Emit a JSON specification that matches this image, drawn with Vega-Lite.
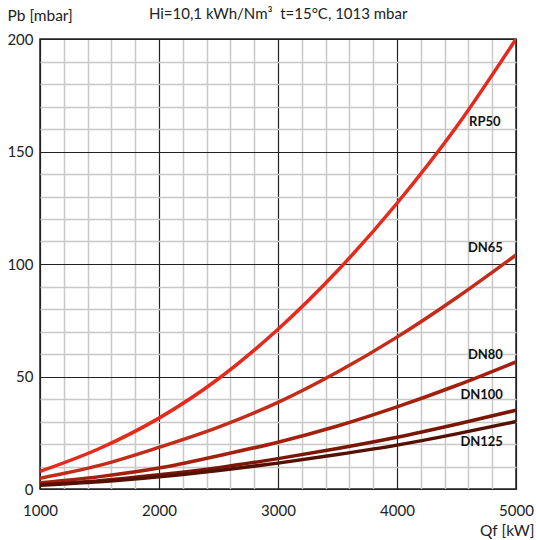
{
  "$schema": "https://vega.github.io/schema/vega-lite/v6.json",
  "width": 476,
  "height": 450,
  "autosize": {"type": "none"},
  "padding": {"left": 40, "top": 39, "right": 20, "bottom": 51},
  "background": "white",
  "config": {
    "font": "Lato",
    "view": {"stroke": "#222", "strokeWidth": 1.5},
    "axis": {"labelFont": "Lato", "titleFont": "Lato", "labelColor": "#222", "titleColor": "#222", "labelFontSize": 15, "titleFontSize": 15.5, "titleFontWeight": "normal", "ticks": false, "domain": false}
  },
  "title": {
    "text": "Hi=10,1 kWh/Nm³\u00a0 t=15°C, 1013 mbar",
    "anchor": "start",
    "dx": 142,
    "dy": 14,
    "offset": 0,
    "fontSize": 15,
    "fontWeight": "normal",
    "color": "#222",
    "font": "Lato"
  },
  "datasets": {
    "curves": [
      {"serie": "RP50", "q": 1000, "p": 7.8}, {"serie": "RP50", "q": 1500, "p": 18}, {"serie": "RP50", "q": 2000, "p": 31.5}, {"serie": "RP50", "q": 2500, "p": 49}, {"serie": "RP50", "q": 3000, "p": 71}, {"serie": "RP50", "q": 3500, "p": 97}, {"serie": "RP50", "q": 4000, "p": 127}, {"serie": "RP50", "q": 4500, "p": 161}, {"serie": "RP50", "q": 5000, "p": 200},
      {"serie": "DN65", "q": 1000, "p": 4.8}, {"serie": "DN65", "q": 1500, "p": 10.5}, {"serie": "DN65", "q": 2000, "p": 18.5}, {"serie": "DN65", "q": 2500, "p": 27.5}, {"serie": "DN65", "q": 3000, "p": 38.5}, {"serie": "DN65", "q": 3500, "p": 52}, {"serie": "DN65", "q": 4000, "p": 67.5}, {"serie": "DN65", "q": 4500, "p": 85}, {"serie": "DN65", "q": 5000, "p": 104},
      {"serie": "DN80", "q": 1000, "p": 2.8}, {"serie": "DN80", "q": 1500, "p": 5.5}, {"serie": "DN80", "q": 2000, "p": 9.3}, {"serie": "DN80", "q": 2500, "p": 14.8}, {"serie": "DN80", "q": 3000, "p": 20.8}, {"serie": "DN80", "q": 3500, "p": 28}, {"serie": "DN80", "q": 4000, "p": 36.5}, {"serie": "DN80", "q": 4500, "p": 46}, {"serie": "DN80", "q": 5000, "p": 56.5},
      {"serie": "DN100", "q": 1000, "p": 2}, {"serie": "DN100", "q": 1500, "p": 3.7}, {"serie": "DN100", "q": 2000, "p": 6.3}, {"serie": "DN100", "q": 2500, "p": 9.5}, {"serie": "DN100", "q": 3000, "p": 13.5}, {"serie": "DN100", "q": 3500, "p": 18}, {"serie": "DN100", "q": 4000, "p": 23}, {"serie": "DN100", "q": 4500, "p": 28.8}, {"serie": "DN100", "q": 5000, "p": 35},
      {"serie": "DN125", "q": 1000, "p": 1.7}, {"serie": "DN125", "q": 1500, "p": 3.2}, {"serie": "DN125", "q": 2000, "p": 5.4}, {"serie": "DN125", "q": 2500, "p": 8.2}, {"serie": "DN125", "q": 3000, "p": 11.5}, {"serie": "DN125", "q": 3500, "p": 15.3}, {"serie": "DN125", "q": 4000, "p": 19.5}, {"serie": "DN125", "q": 4500, "p": 24.5}, {"serie": "DN125", "q": 5000, "p": 30}
    ],
    "labels": [
      {"serie": "RP50", "q": 4870, "p": 163},
      {"serie": "DN65", "q": 4890, "p": 107},
      {"serie": "DN80", "q": 4890, "p": 59.5},
      {"serie": "DN100", "q": 4890, "p": 42},
      {"serie": "DN125", "q": 4890, "p": 21}
    ]
  },
  "encoding": {
    "x": {
      "field": "q", "type": "quantitative",
      "scale": {"domain": [1000, 5000], "nice": false, "zero": false},
      "axis": {
        "values": [1000,1200,1400,1600,1800,2000,2200,2400,2600,2800,3000,3200,3400,3600,3800,4000,4200,4400,4600,4800,5000],
        "labelExpr": "datum.value % 1000 === 0 ? format(datum.value, 'd') : ''",
        "labelPadding": 14,
        "labelFlush": false,
        "labelOverlap": false,
        "grid": true,
        "gridColor": {"condition": {"test": "datum.value % 1000 === 0", "value": "#222"}, "value": "#c8c8c8"},
        "gridWidth": {"condition": {"test": "datum.value % 1000 === 0", "value": 1.2}, "value": 1.5},
        "title": "Qf [kW]",
        "titleAnchor": "end",
        "titleAlign": "right",
        "titleX": 494,
        "titleY": 46,
        "titleBaseline": "alphabetic"
      }
    },
    "y": {
      "field": "p", "type": "quantitative",
      "scale": {"domain": [0, 200], "nice": false},
      "axis": {
        "values": [0,10,20,30,40,50,60,70,80,90,100,110,120,130,140,150,160,170,180,190,200],
        "labelExpr": "datum.value % 50 === 0 ? format(datum.value, 'd') : ''",
        "labelPadding": 7,
        "labelOverlap": false,
        "labelFlush": false,
        "grid": true,
        "gridColor": {"condition": {"test": "datum.value % 50 === 0", "value": "#222"}, "value": "#c8c8c8"},
        "gridWidth": {"condition": {"test": "datum.value % 50 === 0", "value": 1.2}, "value": 1.5},
        "title": "Pb [mbar]",
        "titleAngle": 0,
        "titleAlign": "left",
        "titleBaseline": "alphabetic",
        "titleX": -33,
        "titleY": -19
      }
    }
  },
  "layer": [
    {
      "data": {"name": "curves"},
      "mark": {"type": "line", "strokeWidth": 3.5, "interpolate": "monotone", "clip": true},
      "encoding": {
        "color": {
          "field": "serie", "type": "nominal",
          "scale": {"domain": ["RP50", "DN65", "DN80", "DN100", "DN125"], "range": ["#e5291c", "#c42c1a", "#a3200e", "#7a1606", "#541000"]},
          "legend": null
        }
      }
    },
    {
      "data": {"name": "labels"},
      "mark": {"type": "text", "align": "right", "baseline": "middle", "fontWeight": "bold", "fontSize": 13, "color": "#111", "font": "Lato"},
      "encoding": {
        "text": {"field": "serie"}
      }
    }
  ]
}
